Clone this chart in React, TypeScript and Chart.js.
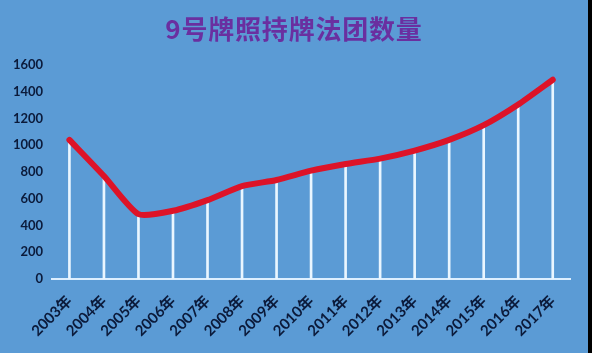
import React, { useEffect, useRef } from "react";
import { Chart, registerables } from "chart.js";

Chart.register(...registerables);

const TITLE = "9号牌照持牌法团数量";
const years = [
  "2003年", "2004年", "2005年", "2006年", "2007年", "2008年", "2009年", "2010年",
  "2011年", "2012年", "2013年", "2014年", "2015年", "2016年", "2017年",
];
const counts = [1040, 770, 485, 510, 590, 695, 740, 810, 860, 900, 960, 1040, 1150, 1305, 1490];
const yMin = 0;
const yMax = 1600;
const yStep = 200;

const BG = "#5B9BD5";
const TICK_COLOR = "#0B1A3A";

export default function App() {
  const canvasRef = useRef<HTMLCanvasElement | null>(null);

  useEffect(() => {
    document.body.style.margin = "0";
    document.body.style.background = "#000";
    const canvas = canvasRef.current;
    if (!canvas) return;
    const chart = new Chart(canvas, {
      type: "bar",
      data: {
        labels: years,
        datasets: [
          {
            type: "line",
            label: "line",
            data: counts,
            borderColor: "#DD1328",
            borderWidth: 6,
            borderCapStyle: "round",
            borderJoinStyle: "round",
            tension: 0.2,
            pointRadius: 0,
            fill: false,
            order: 0,
          } as any,
          {
            type: "bar",
            label: "drop",
            data: counts,
            backgroundColor: "#EAF6FF",
            barThickness: 2,
            order: 1,
          } as any,
        ],
      },
      options: {
        responsive: false,
        maintainAspectRatio: false,
        animation: false,
        layout: { padding: { left: 4, right: 18, top: 65, bottom: 0 } },
        plugins: {
          legend: { display: false },
          tooltip: { enabled: false },
          title: { display: false },
        },
        scales: {
          x: {
            grid: { display: false, drawTicks: false },
            border: { display: true, color: "#DDEFFF", width: 2 },
            afterFit: (s: any) => {
              s.paddingLeft = 0;
              s.paddingRight = 0;
              s.height = 74;
            },
            ticks: {
              color: TICK_COLOR,
              autoSkip: false,
              minRotation: 45,
              maxRotation: 45,
              padding: 13,
              font: { family: "Lato, 'Noto Sans CJK SC', sans-serif", size: 15, weight: "bold" },
            },
          },
          y: {
            min: yMin,
            max: yMax,
            grid: { display: false, drawTicks: false },
            border: { display: false },
            ticks: {
              stepSize: yStep,
              color: TICK_COLOR,
              padding: 9,
              font: { family: "Lato, sans-serif", size: 13, weight: "bold" },
              callback: (v: any) => String(v),
            },
          },
        },
      },
    });
    return () => chart.destroy();
  }, []);

  return (
    <div style={{ position: "relative", width: 588, height: 353, background: BG }}>
      <div
        style={{
          position: "absolute",
          top: 12,
          left: 0,
          width: 588,
          textAlign: "center",
          fontFamily: "'Noto Sans CJK SC', sans-serif",
          fontWeight: "bold",
          fontSize: 26,
          lineHeight: "32px",
          letterSpacing: 0.8,
          color: "#6A2FA0",
        }}
      >
        {TITLE}
      </div>
      <canvas ref={canvasRef} width={588} height={353} style={{ display: "block" }} />
    </div>
  );
}
